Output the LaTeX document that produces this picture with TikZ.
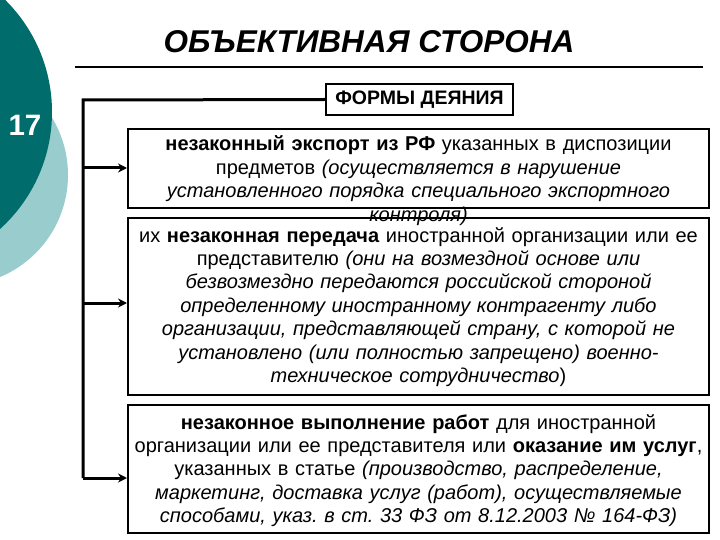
\documentclass[tikz,border=0pt]{standalone}
\usepackage{fontspec}
\setmainfont{Liberation Sans}
\usetikzlibrary{arrows.meta}
\definecolor{darkteal}{RGB}{0,108,108}
\definecolor{lightteal}{RGB}{153,204,204}
\frenchspacing
\begin{document}
\begin{tikzpicture}[x=1pt,y=-1pt,
  boxst/.style={draw=black, line width=2pt, fill=white, inner sep=0pt},
  txt/.style={text width=575pt, align=center, anchor=base, inner sep=0pt,
    font=\fontsize{20}{23.4}\selectfont\frenchspacing},
  conn/.style={line width=3pt},
  arr/.style={line width=3pt, -{Stealth[length=9pt,width=9pt]}}]
\useasboundingbox (0,0) rectangle (720,540);
\begin{scope}
  \clip (0,0) rectangle (720,540);
  \fill[lightteal] (-42.5,175) circle[radius=110.5pt];
  \fill[darkteal] (-105.6,112) circle[radius=157.6pt];
\end{scope}
\node[text=white, font=\fontsize{29.5}{29.5}\selectfont\bfseries, anchor=base] (num) at (25,135.5) {17};
\node[font=\fontsize{31.5}{31.5}\selectfont\bfseries\itshape, anchor=base] (title) at (369,53) {ОБЪЕКТИВНАЯ СТОРОНА};
\coordinate (l1) at (75,67);
\coordinate (l2) at (703,67);
\draw[line width=2pt] (l1) -- (l2);
\node[boxst, minimum width=187pt, minimum height=31pt, font=\fontsize{19.5}{19.5}\selectfont\bfseries] (forms) at (419.5,99.5) {ФОРМЫ ДЕЯНИЯ};
% box 1
\node[boxst, minimum width=581pt, minimum height=79pt] (b1) at (418.5,168.5) {};
% box 2
\node[boxst, minimum width=581pt, minimum height=177pt] (b2) at (418.5,306.5) {};
\node[txt] (t1) at (418.5,151) {\textbf{незаконный экспорт из РФ} указанных в диспозиции\\
предметов \textit{(осуществляется в нарушение}\\
\textit{установленного порядка специального экспортного}\\
\textit{контроля)}};
\node[txt] (t2) at (418.5,242) {их \textbf{незаконная передача} иностранной организации или ее\\
представителю \textit{(они на возмездной основе или}\\
\textit{безвозмездно передаются российской стороной}\\
\textit{определенному иностранному контрагенту либо}\\
\textit{организации, представляющей страну, с которой не}\\
\textit{установлено (или полностью запрещено) военно-}\\
\textit{техническое сотрудничество})};
% box 3
\node[boxst, minimum width=581pt, minimum height=128pt] (b3) at (418.5,469) {};
\node[txt] (t3) at (418.5,429) {\textbf{незаконное выполнение работ} для иностранной\\
организации или ее представителя или \textbf{оказание им услуг},\\
указанных в статье \textit{(производство, распределение,}\\
\textit{маркетинг, доставка услуг (работ), осуществляемые}\\
\textit{способами, указ. в ст. 33 ФЗ от 8.12.2003 № 164-ФЗ)}};
% connectors
\coordinate (c0) at (83,100);
\coordinate (c1) at (83,168);
\coordinate (c2) at (83,303);
\coordinate (c3) at (83,478);
\draw[conn] (forms.west) -- (c0) -- (c3);
\draw[arr] (c1) -- (c1 -| b1.west);
\draw[arr] (c2) -- (c2 -| b2.west);
\draw[arr] (c3) -- (c3 -| b3.west);
\end{tikzpicture}
\end{document}
